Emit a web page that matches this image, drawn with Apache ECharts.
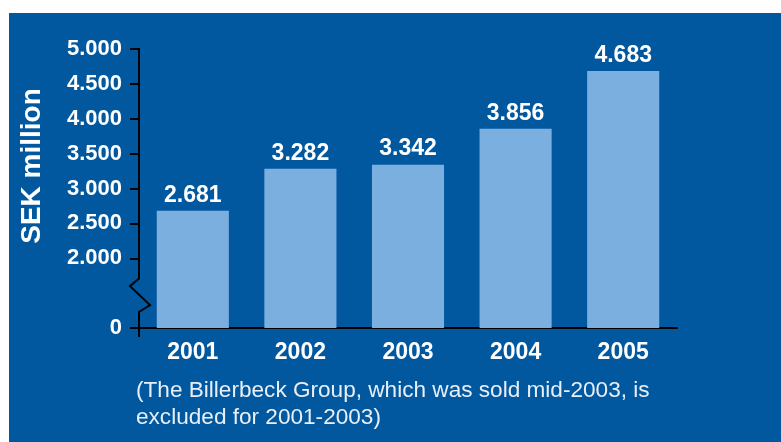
<!DOCTYPE html>
<html><head><meta charset="utf-8">
<script src="https://cdn.jsdelivr.net/npm/echarts@6/dist/echarts.min.js"></script>
<style>html,body{margin:0;padding:0;background:#fff}#c{width:781px;height:442px}</style>
</head><body><div id="c"></div>
<script>
const categories = ['2001', '2002', '2003', '2004', '2005'];
const values = [2681, 3282, 3342, 3856, 4683];
const yTicks = [0, 2000, 2500, 3000, 3500, 4000, 4500, 5000];
const axisName = 'SEK million';
const noteLines = ['(The Billerbeck Group, which was sold mid-2003, is', 'excluded for 2001-2003)'];
const breakRange = [0, 2000];

function fmt(v) { return String(v).replace(/\B(?=(\d{3})+(?!\d))/g, '.'); }

const FONT = "'Liberation Sans', Arial, Helvetica, sans-serif";
const BLUE = '#02589f';
const chart = echarts.init(document.getElementById('c'), null, { renderer: 'canvas' });
chart.setOption({
  backgroundColor: '#ffffff',
  animation: false,
  grid: { left: 139, right: 104, top: 49, bottom: 114 },
  xAxis: {
    type: 'category', data: categories,
    axisLine: { lineStyle: { color: '#000', width: 2 } },
    axisTick: { length: 9, lineStyle: { color: '#000', width: 2 } },
    axisLabel: { color: '#fff', fontFamily: FONT, fontWeight: 'bold', fontSize: 23, margin: 13 }
  },
  yAxis: {
    type: 'value', min: 0, max: 5000, interval: 500,
    breaks: [{ start: breakRange[0], end: breakRange[1], gap: 1000, isExpanded: false }],
    breakArea: { show: false },
    axisLine: { show: false },
    axisTick: { show: true, length: 9, lineStyle: { color: '#000', width: 2 } },
    splitLine: { show: false },
    axisLabel: {
      color: '#fff', fontFamily: FONT, fontWeight: 'bold', fontSize: 22, margin: 17,
      formatter: function (v) { return yTicks.indexOf(v) >= 0 ? fmt(v) : ''; }
    }
  },
  series: [{
    type: 'bar', data: values, barWidth: '67%',
    itemStyle: { color: '#7bafe0' },
    label: {
      show: true, position: 'top', distance: 4, color: '#fff',
      fontFamily: FONT, fontWeight: 'bold', fontSize: 23,
      formatter: function (p) { return fmt(p.value); }
    }
  }]
});

// axis line with break zigzag, positions derived from the axis scale
const gridRect = chart.getModel().getComponent('grid').coordinateSystem.getRect();
const ax = gridRect.x;
const yTop = chart.convertToPixel({ yAxisIndex: 0 }, yTicks[yTicks.length - 1]);
const yB = chart.convertToPixel({ yAxisIndex: 0 }, breakRange[1]);
const y0 = chart.convertToPixel({ yAxisIndex: 0 }, 0);
const h = y0 - yB;
const pts = [
  [ax, yTop - 1],
  [ax, yB + h * 0.29],
  [ax - 9, yB + h * 0.40],
  [ax + 11, yB + h * 0.67],
  [ax, yB + h * 0.77],
  [ax, y0 + 9]
];
chart.setOption({
  graphic: [
    { type: 'rect', z: -100, silent: true, shape: { x: 9, y: 13, width: 772, height: 429 }, style: { fill: BLUE } },
    { type: 'polyline', z: 100, shape: { points: pts }, style: { stroke: '#000', lineWidth: 2, fill: null } },
    {
      type: 'text', z: 100, x: 32, y: 166, rotation: Math.PI / 2,
      style: { text: axisName, fill: '#fff', font: 'bold 28px ' + FONT, align: 'center', verticalAlign: 'middle' }
    },
    {
      type: 'text', z: 100, x: 136, y: 377,
      style: { text: noteLines.join('\n'), fill: '#e8eff7', font: '22.6px ' + FONT, lineHeight: 27, align: 'left', verticalAlign: 'top' }
    }
  ]
});
</script></body></html>
